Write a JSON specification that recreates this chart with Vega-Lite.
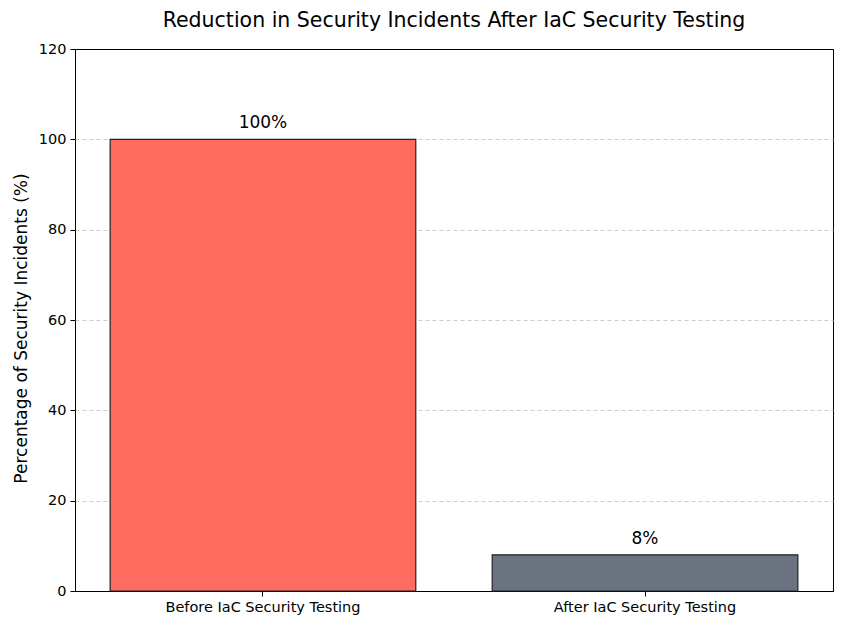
{
  "$schema": "https://vega.github.io/schema/vega-lite/v6.json",
  "autosize": {"type": "none"},
  "width": 758,
  "height": 542,
  "padding": {"left": 75, "top": 49, "right": 16, "bottom": 33},
  "background": "white",
  "title": {"text": "Reduction in Security Incidents After IaC Security Testing", "font": "DejaVu Sans", "fontSize": 20.5, "fontWeight": "normal", "color": "black", "offset": 10, "anchor": "middle"},
  "config": {
    "view": {"stroke": "black", "strokeWidth": 1},
    "axis": {"labelFont": "DejaVu Sans", "titleFont": "DejaVu Sans", "labelColor": "black", "titleColor": "black", "tickColor": "black", "domainColor": "black", "labelFontSize": 14.5, "titleFontWeight": "normal", "labelLimit": 0}
  },
  "data": {"values": [
    {"phase": "Before IaC Security Testing", "pct": 100, "label": "100%"},
    {"phase": "After IaC Security Testing", "pct": 8, "label": "8%"}
  ]},
  "encoding": {
    "x": {"field": "phase", "type": "nominal", "sort": null,
      "scale": {"paddingInner": 0.2, "paddingOuter": 0.092},
      "axis": {"title": null, "labelAngle": 0, "tickSize": 5, "labelPadding": 4, "domain": false}},
    "y": {"field": "pct", "type": "quantitative",
      "scale": {"domain": [0, 120]},
      "axis": {"title": "Percentage of Security Incidents (%)", "titleFontSize": 17, "titleY": 279, "values": [0, 20, 40, 60, 80, 100, 120], "tickSize": 5, "labelPadding": 4, "titlePadding": 8, "domain": false,
        "grid": true,
        "gridDash": {"condition": {"test": "datum.value == 0 || datum.value == 120", "value": []}, "value": [4, 3]},
        "gridColor": {"condition": {"test": "datum.value == 0 || datum.value == 120", "value": "black"}, "value": "#cccccc"},
        "gridWidth": 1}}
  },
  "layer": [
    {"mark": {"type": "bar", "stroke": "#222222", "strokeWidth": 1.2},
     "encoding": {"color": {"field": "phase", "type": "nominal", "sort": null, "legend": null,
       "scale": {"domain": ["Before IaC Security Testing", "After IaC Security Testing"], "range": ["#FF6B5E", "#6B7280"]}}}},
    {"mark": {"type": "text", "dy": -16, "font": "DejaVu Sans", "fontSize": 17, "color": "black"},
     "encoding": {"text": {"field": "label"}}}
  ]
}
